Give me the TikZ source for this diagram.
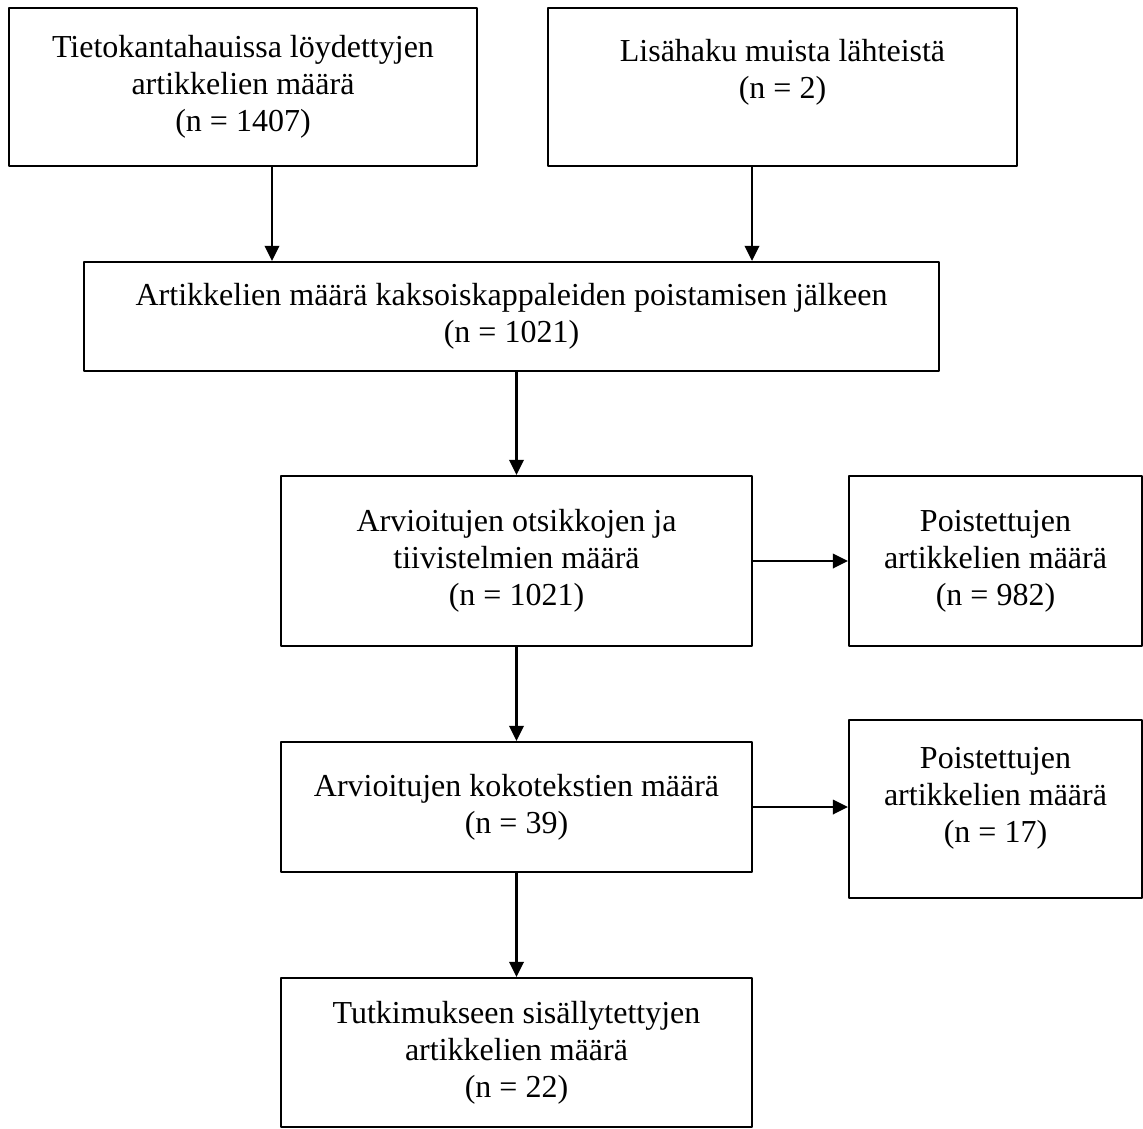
\documentclass[tikz,border=0pt]{standalone}
\usepackage{fontspec}
\setmainfont{Liberation Serif}
\usetikzlibrary{arrows.meta,calc}
\begin{document}
\begin{tikzpicture}[x=0.375pt, y=-0.375pt, font=\fontsize{12}{13.9}\selectfont, line join=round,
 >={Triangle[width=5.4pt,length=5.6pt]},
 laatikko/.style={draw, line width=0.85pt, align=center, inner sep=0pt},
 nuoli/.style={->, line width=0.85pt}]
 \def\px{0.375pt}
 \useasboundingbox (0,0) rectangle (1143,1128);
 \node[laatikko, minimum width=468*\px, minimum height=158*\px] (tieto) at (243,87)
   {Tietokantahauissa löydettyjen\\artikkelien määrä\\(n = 1407)};
 \node[laatikko, minimum width=469*\px, minimum height=158*\px] (lisa) at (782.5,87)
   {Lisähaku muista lähteistä\\(n = 2)\\~};
 \node[laatikko, minimum width=855*\px, minimum height=109*\px] (kaksois) at (511.5,316.5)
   {Artikkelien määrä kaksoiskappaleiden poistamisen jälkeen\\(n = 1021)};
 \node[laatikko, minimum width=471*\px, minimum height=170*\px] (otsikot) at (516.5,561)
   {Arvioitujen otsikkojen ja\\tiivistelmien määrä\\(n = 1021)};
 \node[laatikko, minimum width=293*\px, minimum height=170*\px] (poisto1) at (995.5,561)
   {Poistettujen\\artikkelien määrä\\(n = 982)};
 \node[laatikko, minimum width=471*\px, minimum height=130*\px] (koko) at (516.5,807)
   {Arvioitujen kokotekstien määrä\\(n = 39)};
 \node[laatikko, minimum width=293*\px, minimum height=178*\px, text depth=28*\px] (poisto2) at (995.5,809)
   {Poistettujen\\artikkelien määrä\\(n = 17)};
 \node[laatikko, minimum width=471*\px, minimum height=149*\px] (mukana) at (516.5,1052.5)
   {Tutkimukseen sisällytettyjen\\artikkelien määrä\\(n = 22)};
 % nuolten alkupisteet ylälaatikoista
 \coordinate (t1) at ($(tieto.south)+(29,0)$);
 \coordinate (t2) at ($(lisa.south)+(-30.5,0)$);
 \draw[nuoli] (t1) -- (t1 |- kaksois.north);
 \draw[nuoli] (t2) -- (t2 |- kaksois.north);
 \draw[nuoli] (kaksois.south -| otsikot.north) -- (otsikot.north);
 \draw[nuoli] (otsikot.east) -- (poisto1.west);
 \draw[nuoli] (otsikot.south) -- (koko.north);
 \draw[nuoli] (koko.east) -- (koko.east -| poisto2.west);
 \draw[nuoli] (koko.south) -- (mukana.north);
\end{tikzpicture}
\end{document}
